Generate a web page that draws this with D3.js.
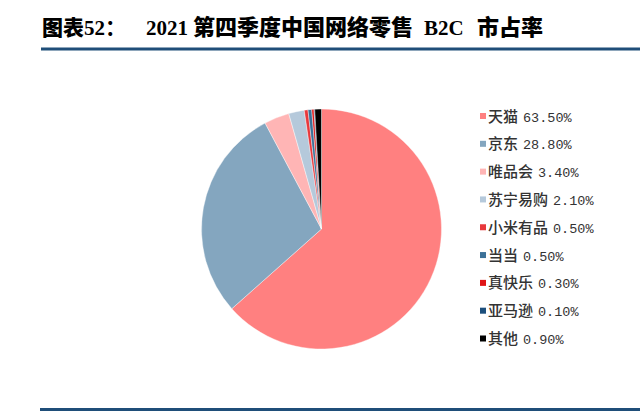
<!DOCTYPE html>
<html><head><meta charset="utf-8">
<script src="https://cdn.jsdelivr.net/npm/d3@7"></script>
<style>html,body{margin:0;padding:0;background:#fff;}svg{display:block;}</style>
</head><body>
<svg id="c" width="640" height="411"></svg>
<script>
const categories = ["天猫","京东","唯品会","苏宁易购","小米有品","当当","真快乐","亚马逊","其他"];
const shares = [63.5, 28.8, 3.4, 2.1, 0.5, 0.5, 0.3, 0.1, 0.9];
const valueLabels = ["63.50%","28.80%","3.40%","2.10%","0.50%","0.50%","0.30%","0.10%","0.90%"];
const colors = ["#FF8080","#84A6BF","#FFB5B5","#B5C9DB","#E8383C","#3B7198","#E01515","#1C4F7C","#000000"];

const svg = d3.select("#c");

// Title
const title = svg.append("text").attr("y", 35).attr("font-weight", "bold").attr("fill", "#000");
title.append("tspan").attr("x", 42).attr("font-family", "'Noto Sans CJK SC'").attr("font-weight", 900).attr("font-size", 21).text("图表");
title.append("tspan").attr("font-family", "'Liberation Serif'").attr("font-size", 21).text("52");
title.append("tspan").attr("font-family", "'Noto Sans CJK SC'").attr("font-size", 21).text("：");
title.append("tspan").attr("x", 146).attr("font-family", "'Liberation Serif'").attr("font-size", 21).text("2021");
title.append("tspan").attr("x", 193).attr("font-family", "'Noto Sans CJK SC'").attr("font-weight", 900).attr("font-size", 22).text("第四季度中国网络零售");
title.append("tspan").attr("x", 424).attr("font-family", "'Liberation Serif'").attr("font-size", 21).text("B2C");
title.append("tspan").attr("x", 477).attr("font-family", "'Noto Sans CJK SC'").attr("font-weight", 900).attr("font-size", 22).text("市占率");

// Rules
svg.append("rect").attr("x", 41).attr("y", 47.5).attr("width", 599).attr("height", 3).attr("fill", "#1F4E79");
svg.append("rect").attr("x", 40).attr("y", 408).attr("width", 600).attr("height", 3).attr("fill", "#1F4E79");

// Pie
const cx = 321.5, cy = 229, r = 120;
const pie = d3.pie().sort(null).value(d => d).startAngle(0).endAngle(2 * Math.PI);
const arc = d3.arc().innerRadius(0).outerRadius(r);
const g = svg.append("g").attr("transform", `translate(${cx},${cy})`);
g.selectAll("path").data(pie(shares)).join("path")
  .attr("d", arc)
  .attr("fill", (d, i) => colors[i])
  .attr("stroke", "#fff").attr("stroke-width", 0.4);

// Legend
const legY = d3.scalePoint().domain(categories).range([116, 338.5]);
const leg = svg.append("g");
const items = leg.selectAll("g").data(categories).join("g")
  .attr("transform", d => `translate(480,${legY(d)})`);
items.append("rect").attr("x", 0).attr("y", -3).attr("width", 6).attr("height", 6)
  .attr("fill", (d, i) => colors[i]);
const t = items.append("text").attr("x", 8).attr("y", 5.5).attr("fill", "#333");
t.append("tspan").attr("font-family", "'Noto Sans CJK SC'").attr("font-weight", 500).attr("font-size", 15).text(d => d);
t.append("tspan").attr("font-family", "'Liberation Mono','DejaVu Sans Mono'").attr("font-size", 13.5)
  .attr("dx", 5).text((d, i) => valueLabels[i]);
</script>
</body></html>
